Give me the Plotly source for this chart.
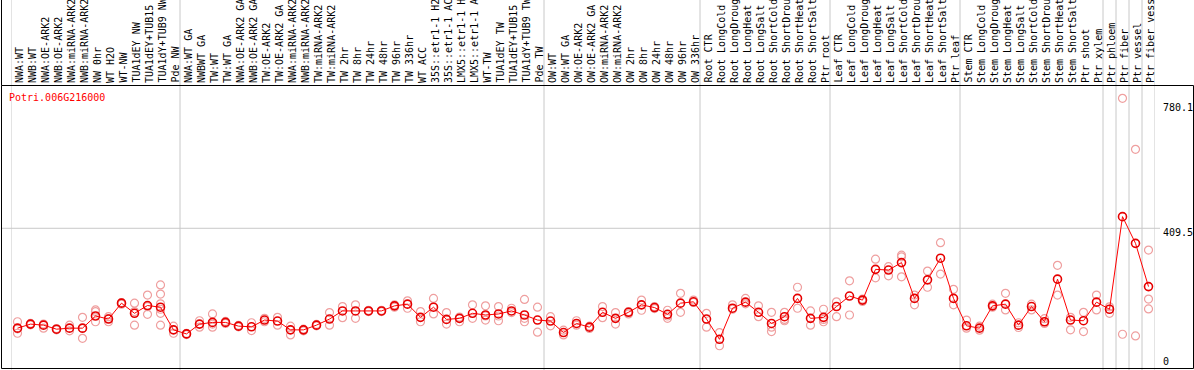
import plotly.graph_objects as go

W, H = 1194, 370

categories = [
    "NWA:WT", "NWB:WT", "NWA:OE-ARK2", "NWB:OE-ARK2", "NWA:miRNA-ARK2", "NWB:miRNA-ARK2",
    "NW 0hr", "WT H2O", "WT-NW", "TUA1dEY NW", "TUA1dEY+TUB15", "TUA1dY+TUB9 NW", "Pde NW",
    "NWA:WT GA", "NWBWT GA", "TW:WT", "TW:WT GA", "NWA:OE-ARK2 GA", "NWB:OE-ARK2 GA",
    "TW:OE-ARK2", "TW:OE-ARK2 GA", "NWA:miRNA-ARK2", "NWB:miRNA-ARK2", "TW:miRNA-ARK2",
    "TW:miRNA-ARK2", "TW 2hr", "TW 8hr", "TW 24hr", "TW 48hr", "TW 96hr", "TW 336hr",
    "WT ACC", "35S::etr1-1 H2", "35S::etr1-1 AC", "LMX5::etr1-1 H", "LMX5::etr1-1 A",
    "WT-TW", "TUA1dEY TW", "TUA1dEY+TUB15", "TUA1dY+TUB9 TW", "Pde TW",
    "OW:WT", "OW:WT GA", "OW:OE-ARK2", "OW:OE-ARK2 GA", "OW:miRNA-ARK2", "OW:miRNA-ARK2",
    "OW 2hr", "OW 8hr", "OW 24hr", "OW 48hr", "OW 96hr", "OW 336hr",
    "Root CTR", "Root LongCold", "Root LongDroug", "Root LongHeat", "Root LongSalt",
    "Root ShortCold", "Root ShortDrou", "Root ShortHeat", "Root ShortSalt", "Ptr root",
    "Leaf CTR", "Leaf LongCold", "Leaf LongDroug", "Leaf LongHeat", "Leaf LongSalt",
    "Leaf ShortCold", "Leaf ShortDrou", "Leaf ShortHeat", "Leaf ShortSalt", "Ptr leaf",
    "Stem CTR", "Stem LongCold", "Stem LongDroug", "Stem LongHeat", "Stem LongSalt",
    "Stem ShortCold", "Stem ShortDrou", "Stem ShortHeat", "Stem ShortSalt", "Ptr shoot",
    "Ptr xylem", "Ptr phloem", "Ptr fiber", "Ptr vessel", "Ptr fiber vess",
]

means = [
    114, 126, 123, 111, 114, 114, 150, 141, 188, 158, 181, 176, 109,
    97, 126, 131, 131, 120, 118, 138, 135, 109, 109, 123, 141, 165, 165, 165, 165,
    180, 185, 146, 176, 140, 143, 158, 153, 156, 165, 153, 138, 135,
    101, 128, 117, 161, 143, 161, 183, 175, 155, 188, 192, 141,
    81, 173, 191, 161, 128, 148, 202, 143, 146, 178,
    209, 197, 288, 286, 308, 202, 257, 321, 202, 121,
    114, 180, 185, 123, 178, 133, 259, 138, 136, 191, 170,
    444, 365, 237,
]

replicates = [
    [133, 99, 112], [128, 124], [126, 114], [113, 109], [123, 106], [146, 84, 113],
    [168, 163, 133], [148, 133, 142], [190, 185], [188, 123, 163], [212, 155, 178],
    [242, 215, 186, 158, 170, 123], [120, 99],
    [99, 95], [136, 117], [156, 117, 126], [134, 128], [122, 118], [130, 107],
    [143, 133], [146, 123], [120, 94], [111, 106], [125, 121], [160, 123],
    [178, 145], [183, 143], [167, 163], [167, 163], [183, 176], [195, 173],
    [163, 133], [202, 156], [160, 126], [147, 133], [183, 143], [180, 138, 150],
    [178, 136, 150], [173, 160], [199, 143, 133], [176, 102], [148, 121],
    [108, 94], [136, 123], [120, 113], [178, 145], [160, 126], [163, 156],
    [197, 167], [178, 172], [167, 143, 150], [217, 161], [197, 190], [158, 117],
    [101, 62], [183, 170], [202, 186], [180, 148], [161, 104, 117], [161, 136, 140],
    [235, 173], [165, 123], [170, 133, 140], [192, 148],
    [254, 153], [200, 193], [318, 263], [296, 269], [330, 266, 325], [212, 183],
    [283, 235], [367, 274], [229, 183], [138, 114],
    [120, 108], [185, 176], [217, 168], [130, 116], [185, 168], [142, 128],
    [300, 212], [146, 109], [161, 104], [212, 168], [177, 158],
    [794, 96], [643, 91], [345, 200, 171],
]

gene_id = "Potri.006G216000"
tick_values = [780.1, 409.5, 0]
tick_texts = ["780.1", "409.5", "0"]
gridline_value = 409.5
separators = [-0.5, 12.5, 40.5, 52.5, 62.5, 72.5, 83.5, 84.5, 85.5, 86.5, 87.5]

MONO = "DejaVu Sans Mono"
n = len(categories)
xs = list(range(n))

rep_x, rep_y = [], []
for i, reps in enumerate(replicates):
    for v in reps:
        rep_x.append(i)
        rep_y.append(v)

fig = go.Figure()
fig.add_trace(go.Scatter(
    x=rep_x, y=rep_y, mode="markers",
    marker=dict(symbol="circle-open", size=8, color="#ef9f9f", line=dict(width=1.2)),
    hoverinfo="skip",
))
fig.add_trace(go.Scatter(
    x=xs, y=means, mode="lines+markers",
    line=dict(color="#ff0000", width=1),
    marker=dict(symbol="circle-open", size=8, color="#e60000", line=dict(width=1.6)),
))

plot_top_px, plot_bot_px = 88, 366.7
px_per_unit = 0.338
ymax = (plot_bot_px - plot_top_px) / px_per_unit

shapes = []
for s in separators:
    shapes.append(dict(type="line", xref="x", yref="paper", x0=s, x1=s, y0=0, y1=1,
                       line=dict(color="#c8c8c8", width=1), layer="below"))
shapes.append(dict(type="line", xref="paper", yref="y", x0=1 / W, x1=1160 / W,
                   y0=gridline_value, y1=gridline_value,
                   line=dict(color="#c8c8c8", width=1), layer="below"))
shapes.append(dict(type="rect", xref="paper", yref="paper",
                   x0=1.5 / W, x1=1193.5 / W, y0=(H - 368.5) / H, y1=(H - 85.5) / H,
                   line=dict(color="black", width=1)))
shapes.append(dict(type="line", xref="paper", yref="paper",
                   x0=1.5 / W, x1=1.5 / W, y0=(H - 85.5) / H, y1=1,
                   line=dict(color="black", width=1)))

annotations = []
for i, lab in enumerate(categories):
    annotations.append(dict(
        x=i, xref="x", y=(H - 84) / H, yref="paper", text=lab, textangle=-90,
        xanchor="center", yanchor="bottom", xshift=1.5, showarrow=False,
        font=dict(family=MONO, size=10, color="black"), borderpad=0,
    ))
annotations.append(dict(
    x=8 / W, xref="paper", y=(H - 91) / H, yref="paper", text=gene_id,
    xanchor="left", yanchor="top", showarrow=False,
    font=dict(family=MONO, size=10, color="#ff0000"), borderpad=0,
))
for v, t in zip(tick_values, tick_texts):
    shift = 5 if v == 0 else -4
    annotations.append(dict(
        x=1162 / W, xref="paper", y=v, yref="y", text=t,
        xanchor="left", yanchor="middle", yshift=shift, showarrow=False,
        font=dict(family=MONO, size=10, color="black"), borderpad=0,
    ))

fig.update_layout(
    width=W, height=H, margin=dict(l=0, r=0, t=0, b=0),
    paper_bgcolor="white", plot_bgcolor="white", showlegend=False,
    xaxis=dict(range=[-0.5, n - 0.5], domain=[11 / W, 1155 / W], visible=False),
    yaxis=dict(range=[0, ymax], domain=[(H - plot_bot_px) / H, (H - plot_top_px) / H],
               visible=False),
    shapes=shapes, annotations=annotations,
)

fig.write_html("out.html", config={"displayModeBar": False},
               post_script="document.body.style.margin='0';")
